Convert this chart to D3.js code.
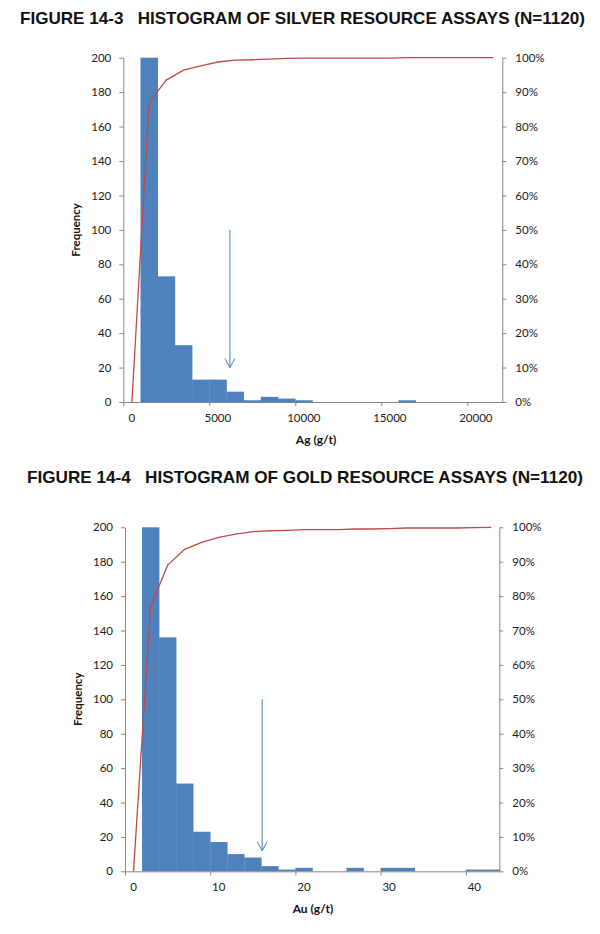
<!DOCTYPE html>
<html>
<head>
<meta charset="utf-8">
<script src="https://cdn.jsdelivr.net/npm/d3@7"></script>
<style>
  body { margin: 0; background: #fff; }
  text { font-family: Lato, "Liberation Sans", sans-serif; }
</style>
</head>
<body>
<div id="container"></div>
<script>
// Silver (Ag, g/t) - bins of 1000
const agBinStart = [0, 1000, 2000, 3000, 4000, 5000, 6000, 7000, 8000, 9000, 10000,
  11000, 12000, 13000, 14000, 15000, 16000, 17000, 18000, 19000, 20000, 21000];
const agCounts = [0, 974, 73, 33, 13, 13, 6, 1, 3, 2, 1, 0, 0, 0, 0, 0, 1, 0, 0, 0, 0, 0];
const agCumPct = [0, 87.0, 93.5, 96.4, 97.6, 98.75, 99.3, 99.4, 99.6, 99.8, 99.9,
  99.9, 99.9, 99.9, 99.9, 99.9, 100, 100, 100, 100, 100, 100];
const agXTicks = [0, 5000, 10000, 15000, 20000];
const agArrow = { x: 6200, from: 100, to: 20 };

// Gold (Au, g/t) - bins of 2
const auBinStart = [0, 2, 4, 6, 8, 10, 12, 14, 16, 18, 20, 22, 24, 26, 28, 30, 32, 34, 36, 38, 40, 42];
const auCounts = [0, 861, 136, 51, 23, 17, 10, 8, 3, 1, 2, 0, 0, 2, 0, 2, 2, 0, 0, 0, 1, 1];
const auCumPct = [0, 76.9, 89.0, 93.6, 95.6, 97.1, 98.0, 98.75, 99.0, 99.1, 99.3, 99.3,
  99.3, 99.5, 99.5, 99.6, 99.8, 99.8, 99.8, 99.8, 99.9, 100];
const auXTicks = [0, 10, 20, 30, 40];
const auArrow = { x: 16.1, from: 100, to: 12 };

const freqTicks = [0, 20, 40, 60, 80, 100, 120, 140, 160, 180, 200];
const pctTicks = [0, 0.1, 0.2, 0.3, 0.4, 0.5, 0.6, 0.7, 0.8, 0.9, 1];

const width = 600;
const height = 934;
const barColor = "#4f81bd";
const lineColor = "#be4b48";
const axisColor = "#868686";

const svg = d3
  .select("#container")
  .append("svg")
  .attr("width", width)
  .attr("height", height);

const drawHist = (cfg) => {
  const x = d3.scaleLinear().domain([0, cfg.xMax]).range([cfg.left, cfg.right]);
  const y = d3.scaleLinear().domain([0, 200]).range([cfg.bottom, cfg.top]).clamp(true);
  const yPct = d3.scaleLinear().domain([0, 1]).range([cfg.bottom, cfg.top]);

  const g = svg.append("g");

  // title
  g.append("text")
    .attr("x", cfg.titleX)
    .attr("y", cfg.titleY)
    .attr("textLength", cfg.titleLen)
    .attr("lengthAdjust", "spacingAndGlyphs")
    .style("white-space", "pre")
    .style("font-family", "'Liberation Sans', Arial, sans-serif")
    .style("font-weight", "bold")
    .style("font-size", "17px")
    .attr("fill", "#111")
    .text(cfg.title);

  // bars
  g.selectAll("rect.bar")
    .data(cfg.bins.map((b, i) => ({ start: b, count: cfg.counts[i] })))
    .enter()
    .append("rect")
    .attr("class", "bar")
    .attr("x", (d) => x(d.start))
    .attr("width", (d) => x(d.start + cfg.binWidth) - x(d.start) + 0.3)
    .attr("y", (d) => y(d.count))
    .attr("height", (d) => cfg.bottom - y(d.count))
    .attr("fill", barColor);

  // axes
  const yAxis = d3.axisLeft(y).tickValues(freqTicks).tickSize(4).tickSizeOuter(0);
  const yAxisR = d3
    .axisRight(yPct)
    .tickValues(pctTicks)
    .tickFormat(d3.format(".0%"))
    .tickSize(4)
    .tickSizeOuter(0);
  const xAxis = d3
    .axisBottom(x)
    .tickValues(cfg.xTicks)
    .tickFormat(d3.format("d"))
    .tickSize(4)
    .tickSizeOuter(0);

  const styleAxis = (sel) => {
    sel.select(".domain").attr("stroke", axisColor);
    sel.selectAll(".tick line").attr("stroke", axisColor);
    sel.selectAll(".tick text")
      .style("font-family", "Lato, sans-serif")
      .style("font-size", "11.5px")
      .attr("fill", "#1a1a1a");
  };

  g.append("g")
    .attr("transform", `translate(${cfg.left},0)`)
    .call(yAxis)
    .call(styleAxis)
    .call((s) => s.selectAll(".tick text").attr("x", -12));

  g.append("g")
    .attr("transform", `translate(${cfg.right},0)`)
    .call(yAxisR)
    .call(styleAxis)
    .call((s) => s.selectAll(".tick text").attr("x", 13));

  g.append("g")
    .attr("transform", `translate(0,${cfg.bottom})`)
    .call(xAxis)
    .call(styleAxis)
    .call((s) => s.selectAll(".tick text").attr("dx", 8).attr("y", 12));

  // cumulative line
  const line = d3
    .line()
    .x((d) => x(d.mid))
    .y((d) => yPct(d.pct / 100));

  g.append("path")
    .datum(cfg.bins.map((b, i) => ({ mid: b + cfg.binWidth / 2, pct: cfg.cum[i] })))
    .attr("d", line)
    .attr("fill", "none")
    .attr("stroke", lineColor)
    .attr("stroke-width", 1.3);

  // arrow annotation
  const ax = x(cfg.arrow.x);
  const ay0 = y(cfg.arrow.from);
  const ay1 = y(cfg.arrow.to);
  g.append("line")
    .attr("x1", ax)
    .attr("x2", ax)
    .attr("y1", ay0)
    .attr("y2", ay1)
    .attr("stroke", "#4a7ebb")
    .attr("stroke-width", 1);
  g.append("path")
    .attr("d", `M${ax - 5},${ay1 - 9}L${ax},${ay1}L${ax + 5},${ay1 - 9}`)
    .attr("fill", "none")
    .attr("stroke", "#4a7ebb")
    .attr("stroke-width", 1);

  // axis titles
  g.append("text")
    .attr("transform", `translate(${cfg.left - 43},${(cfg.top + cfg.bottom) / 2}) rotate(-90)`)
    .attr("text-anchor", "middle")
    .style("font-weight", "bold")
    .style("font-size", "11.5px")
    .attr("fill", "#111")
    .text("Frequency");

  g.append("text")
    .attr("x", cfg.xTitleX)
    .attr("y", cfg.bottom + 42)
    .attr("text-anchor", "middle")
    .style("font-weight", "bold")
    .style("font-size", "12px")
    .attr("fill", "#111")
    .text(cfg.xTitle);
};

drawHist({
  title: "FIGURE 14-3   HISTOGRAM OF SILVER RESOURCE ASSAYS (N=1120)",
  titleX: 20,
  titleY: 24,
  titleLen: 565,
  left: 123.3,
  right: 502.3,
  top: 57.7,
  bottom: 402,
  xMax: 22035,
  binWidth: 1000,
  bins: agBinStart,
  counts: agCounts,
  cum: agCumPct,
  xTicks: agXTicks,
  arrow: agArrow,
  xTitle: "Ag (g/t)",
  xTitleX: 316
});

drawHist({
  title: "FIGURE 14-4   HISTOGRAM OF GOLD RESOURCE ASSAYS (N=1120)",
  titleX: 27,
  titleY: 483,
  titleLen: 556,
  left: 125,
  right: 499.3,
  top: 527.3,
  bottom: 871.3,
  xMax: 43.93,
  binWidth: 2,
  bins: auBinStart,
  counts: auCounts,
  cum: auCumPct,
  xTicks: auXTicks,
  arrow: auArrow,
  xTitle: "Au (g/t)",
  xTitleX: 313
});
</script>
</body>
</html>
